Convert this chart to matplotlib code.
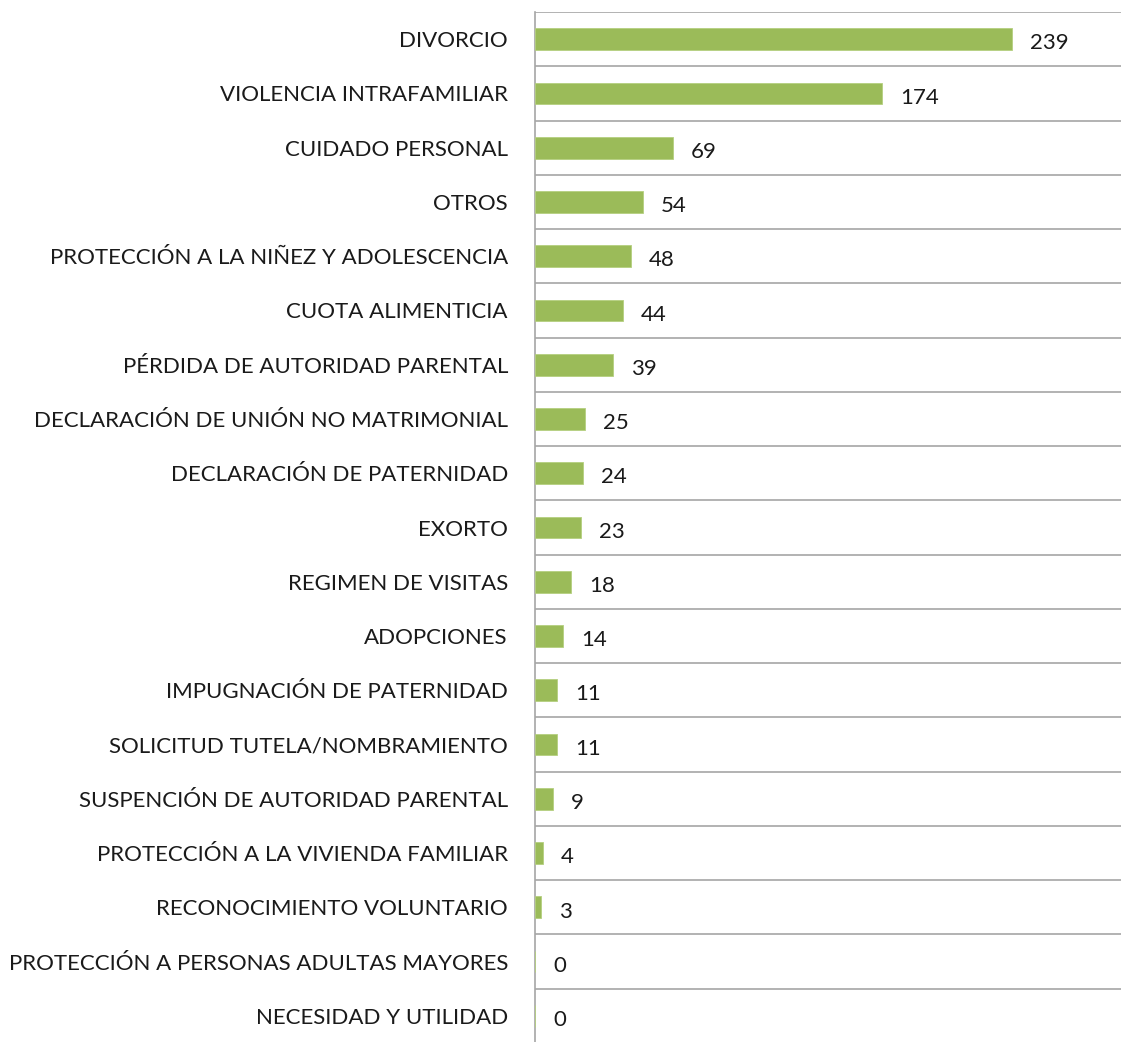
import matplotlib.pyplot as plt

# categories, top to bottom
categorias = [
    "DIVORCIO",
    "VIOLENCIA INTRAFAMILIAR",
    "CUIDADO PERSONAL",
    "OTROS",
    "PROTECCIÓN A LA NIÑEZ Y ADOLESCENCIA",
    "CUOTA ALIMENTICIA",
    "PÉRDIDA DE AUTORIDAD PARENTAL",
    "DECLARACIÓN DE UNIÓN NO MATRIMONIAL",
    "DECLARACIÓN DE PATERNIDAD",
    "EXORTO",
    "REGIMEN DE VISITAS",
    "ADOPCIONES",
    "IMPUGNACIÓN DE PATERNIDAD",
    "SOLICITUD TUTELA/NOMBRAMIENTO",
    "SUSPENCIÓN DE AUTORIDAD PARENTAL",
    "PROTECCIÓN A LA VIVIENDA FAMILIAR",
    "RECONOCIMIENTO VOLUNTARIO",
    "PROTECCIÓN A PERSONAS ADULTAS MAYORES",
    "NECESIDAD Y UTILIDAD",
]
casos = [239, 174, 69, 54, 48, 44, 39, 25, 24, 23, 18, 14, 11, 11, 9, 4, 3, 0, 0]

plt.rcParams['font.family'] = ['Lato', 'DejaVu Sans']

fig = plt.figure(figsize=(11.21, 10.42), dpi=100)
# axes runs a bit past the bottom edge of the figure, as in the original crop
ax = fig.add_axes([535 / 1121, -1 / 1042, 1 - 535 / 1121, 1031 / 1042])

n = len(categorias)
pos = list(range(n))
ax.barh(pos, casos, height=0.4, color='#9BBB59', edgecolor='#B5CF7F', linewidth=0.6, zorder=3)

for y, v in zip(pos, casos):
    ax.text(v + 9, y + 0.04, str(v), va='center_baseline', ha='left', fontsize=16, color='#1a1a1a')

ax.set_ylim(n - 0.5, -0.5)
ax.set_xlim(0, 293.5)

# grid lines between categories
for k in range(n + 1):
    ax.axhline(k - 0.5, color='#A6A6A6', linewidth=1.2, zorder=1)

ax.set_yticks(pos)
ax.set_yticklabels(categorias, fontsize=16, color='#1a1a1a')
ax.tick_params(axis='y', length=0, pad=19.5)
ax.set_xticks([])

for s in ['top', 'right', 'bottom']:
    ax.spines[s].set_visible(False)
ax.spines['left'].set_color('#A6A6A6')
ax.spines['left'].set_linewidth(1.2)

fig.savefig('out.png', dpi=100)
